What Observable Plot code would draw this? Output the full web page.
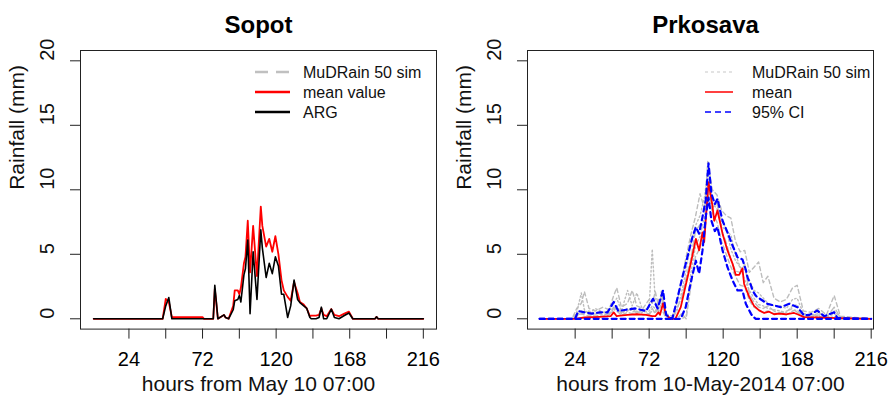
<!DOCTYPE html>
<html><head><meta charset="utf-8">
<script src="https://cdn.jsdelivr.net/npm/d3@7"></script>
<script src="https://cdn.jsdelivr.net/npm/@observablehq/plot@0.6"></script>
<style>
body{margin:0;background:#fff;}
#wrap{display:flex;width:890px;height:396px;overflow:hidden;}
svg{display:block;flex:none;}
</style></head><body><div id="wrap"></div>
<script>
// ---------- Data ----------
const panelTitles = ["Sopot", "Prkosava"];
const xLabels = ["hours from May 10 07:00", "hours from 10-May-2014 07:00"];
const yLabel = "Rainfall (mm)";
const yTicks = [0, 5, 10, 15, 20];
const xTicks = [24, 48, 72, 96, 120, 144, 168, 192, 216];
const xTickLabels = [24, 72, 120, 168, 216];

// Sopot
const sopotHours = [1, 46, 48, 50, 52, 53, 72, 73, 79, 80, 81, 82, 86, 87, 89, 92, 93, 95, 96, 97, 99, 100, 101.5, 103, 105, 107.5, 110, 111, 113.5, 115.5, 117.5, 119.5, 121.5, 123.5, 125, 127.5, 129.5, 131.7, 134, 135.5, 138, 140, 142, 143, 146, 148, 149.5, 151, 153, 156, 158, 161, 164.5, 167.5, 170, 184.5, 185.5, 186.5, 216];
const sopotMean = [0, 0, 1.55, 1.3, 0.12, 0.12, 0.12, 0, 0, 2.3, 1.2, 0, 0.3, 0.1, 0, 1.0, 2.2, 2.2, 1.9, 2.4, 4.3, 4.8, 7.6, 3.6, 7.2, 3.3, 8.7, 7.2, 5.6, 6.2, 5.2, 6.4, 5.0, 3.0, 2.2, 1.7, 1.4, 2.85, 2.0, 1.3, 1.1, 0.8, 0.2, 0.25, 0.25, 0.3, 0.8, 0.3, 0.2, 0.75, 0.3, 0.2, 0.4, 0.55, 0, 0, 0.15, 0, 0];
const sopotARG = [0, 0, 1.0, 1.65, 0, 0, 0, 0, 0, 2.6, 1.3, 0, 0.3, 0.1, 0, 0.7, 1.4, 1.5, 1.8, 1.3, 3.4, 3.9, 6.1, 0.4, 5.2, 1.5, 6.9, 5.5, 3.2, 4.3, 3.5, 4.8, 4.1, 1.9, 1.9, 0.1, 1.0, 3.0, 1.5, 1.26, 1.0, 0.8, 0.1, 0, 0, 0.1, 0.9, 0, 0, 0.75, 0.1, 0, 0.25, 0.45, 0, 0, 0.15, 0, 0];

// Prkosava - a few of the MuDRain simulations
const simHours = [1, 22, 25, 28, 30, 33, 37, 42, 46, 49, 51, 54, 58, 61, 64, 68, 72, 74, 76, 78, 80, 83, 87, 90, 93, 96, 99, 102, 105, 108, 110, 113, 116, 119, 122, 125, 128, 131, 134, 137, 140, 143, 146, 149, 153, 157, 161, 165, 168, 172, 177, 182, 187, 192, 196, 216];
const sim1 = [0, 0, 0.8, 1.2, 2.1, 0.8, 0.6, 0.9, 0.7, 1.8, 2.4, 0.9, 1.2, 2.2, 1.0, 0.8, 1.5, 1.2, 2.1, 1.0, 1.8, 0.4, 0.2, 1.2, 3.0, 4.8, 6.5, 7.9, 9.7, 8.5, 12.2, 10.0, 9.6, 8.4, 8.0, 7.8, 6.0, 5.2, 5.3, 3.6, 4.0, 4.4, 2.8, 3.3, 1.6, 1.3, 1.5, 2.4, 2.6, 0.6, 0.5, 0.8, 0.3, 1.8, 0.2, 0];
const sim2 = [0, 0, 0.5, 2.0, 0.7, 0.4, 0.8, 0.5, 0.6, 1.2, 1.6, 0.6, 2.2, 1.0, 2.0, 0.6, 0.9, 5.4, 1.3, 0.6, 2.2, 0.3, 0, 0.6, 2.0, 3.8, 5.8, 7.2, 8.0, 9.5, 11.5, 9.0, 8.5, 7.2, 6.8, 6.5, 5.0, 4.0, 3.8, 3.0, 2.2, 2.0, 1.6, 1.2, 1.0, 1.0, 0.8, 1.5, 1.6, 0.4, 0.3, 0.4, 0.2, 0.6, 0.1, 0];
const sim3 = [0, 0, 0.2, 0.4, 0.3, 0.2, 0.3, 0.2, 0.3, 0.8, 0.6, 0.3, 0.5, 0.4, 0.6, 0.3, 0.4, 0.6, 0.5, 1.5, 0.8, 0, 0, 0, 0.4, 0, 2.5, 4.8, 5.5, 7.0, 9.8, 8.2, 7.5, 6.0, 5.0, 4.0, 3.3, 2.6, 2.5, 1.4, 0.9, 0.7, 0.5, 0.6, 0.4, 0.5, 0.3, 0.6, 0.7, 0.1, 0.1, 0.3, 0, 0.2, 0, 0];
const sim4 = [0, 0, 0.3, 0.6, 0.5, 0.6, 0.4, 0.5, 0.4, 0.6, 1.0, 0.4, 0.8, 0.6, 0.5, 0.5, 0.6, 1.0, 0.8, 0.5, 1.2, 0.2, 0, 0, 0, 0.2, 3.5, 5.6, 6.4, 8.0, 10.5, 9.3, 8.9, 7.6, 7.0, 5.4, 4.5, 4.0, 3.0, 2.2, 1.6, 1.1, 1.0, 0.8, 0.7, 0.6, 0.5, 1.0, 1.1, 0.2, 0.2, 0.2, 0.1, 0.4, 0, 0];
const sim5 = [0, 0, 0.4, 0.3, 0.6, 0.3, 0.5, 0.3, 0.4, 0.9, 0.7, 0.5, 0.6, 0.9, 0.4, 0.7, 0.3, 0.8, 0.4, 0.9, 1.6, 0.1, 0, 0.8, 1.6, 3.2, 4.6, 6.8, 7.3, 7.0, 10.2, 8.6, 9.0, 6.9, 5.9, 4.6, 3.7, 3.6, 4.2, 1.9, 1.3, 0.9, 0.8, 1.0, 0.6, 0.4, 0.6, 0.8, 0.5, 0.2, 0.1, 0.5, 0.1, 0.9, 0.1, 0];

const prkHours = [1, 24, 30, 40, 47, 49, 51, 53, 58, 64, 70, 74, 76, 78, 79, 81, 83, 86, 89, 92.5, 95.7, 99, 102.3, 104.4, 106.6, 107.7, 110.5, 113, 114.2, 116.3, 119.6, 122.8, 126, 128.2, 130.4, 132.5, 133.6, 136.9, 140, 143.3, 146.6, 149.8, 153, 156.3, 160.6, 166, 168.2, 172.5, 181, 194, 216];
const prkMean = [0, 0, 0.1, 0.15, 0.2, 0.5, 0.2, 0.25, 0.3, 0.35, 0.3, 0.2, 0.2, 0.5, 0.3, 1.2, 0.3, 0, 0, 0.9, 2.6, 4.3, 6.2, 5.3, 6.7, 5.95, 10.6, 8.8, 7.6, 8.4, 6.6, 5.3, 4.3, 3.4, 3.4, 3.9, 2.7, 1.7, 1.0, 0.65, 0.45, 0.55, 0.35, 0.4, 0.35, 0.45, 0.35, 0.13, 0.1, 0.05, 0];

const ciHours = [1, 24, 26, 30, 35, 40, 45, 49, 52, 57, 63, 70, 74.5, 77.5, 81, 83, 87, 90, 92.5, 95.7, 97.9, 100, 102.3, 104.4, 106.6, 108.7, 110.5, 112.4, 114.6, 116.3, 119.6, 122.8, 126, 129.3, 132.5, 134.7, 135.8, 138, 139, 141.1, 142.2, 145.5, 148.7, 153.1, 157.4, 162.8, 168.2, 172.5, 176, 181.1, 185.5, 192, 194.1, 216];
const ciUpper = [0, 0, 0.6, 0.5, 0.4, 0.5, 0.5, 1.3, 0.6, 0.7, 0.8, 0.6, 1.55, 0.8, 2.2, 0.3, 0, 1.42, 2.7, 4.26, 5.3, 6.3, 7.1, 6.6, 7.9, 9.2, 12.06, 9.7, 8.9, 9.3, 7.6, 6.7, 5.7, 4.77, 4.6, 3.8, 3.2, 2.6, 2.2, 1.8, 1.67, 1.42, 1.16, 1.03, 0.9, 1.16, 0.9, 0.26, 0.3, 0.64, 0.2, 0.5, 0.05, 0];
const ciLower = [0, 0, 0, 0, 0, 0, 0, 0, 0, 0, 0, 0, 0, 0, 0, 0, 0, 0, 0, 0.9, 2.2, 3.36, 4.5, 3.5, 5.3, 7.9, 9.4, 7.6, 6.8, 7.1, 5.3, 4.0, 3.0, 2.2, 2.2, 1.16, 0.9, 0.4, 0.2, 0, 0, 0, 0, 0, 0, 0, 0, 0, 0, 0, 0, 0, 0, 0];

const legendSopot = ["MuDRain 50 sim", "mean value", "ARG"];
const legendPrk = ["MuDRain 50 sim", "mean", "95% CI"];

// ---------- Drawing ----------
const FONT = "'Liberation Sans', Arial, Helvetica, sans-serif";

function panel({title, xlabel, xDomain, mL, mR, marks, titleDx}) {
  return Plot.plot({
    width: 445, height: 396,
    marginLeft: mL, marginRight: mR, marginTop: 50, marginBottom: 67.4,
    x: {domain: xDomain},
    y: {domain: [-0.8, 20.8]},
    style: {fontFamily: FONT, background: "#fff", color: "#000", overflow: "visible"},
    marks: [
      ...marks,
      Plot.frame({stroke: "#222", strokeWidth: 1}),
      Plot.axisX({ticks: xTicks, tickSize: 10, tickPadding: 13, fontSize: 20,
        tickFormat: d => xTickLabels.includes(d) ? String(d) : "", label: null, stroke: "#222"}),
      Plot.axisY({ticks: yTicks, tickSize: 10, tickFormat: () => "", label: null, stroke: "#222"}),
      Plot.text(yTicks, {y: d => d, text: d => String(d), frameAnchor: "left", rotate: -90,
        dx: -27, lineAnchor: "bottom", fontSize: 20, fill: "#111"}),
      Plot.text([xlabel], {text: d => d, frameAnchor: "bottom", dy: 61.4, lineAnchor: "bottom", fontSize: 21, fill: "#111"}),
      Plot.text([yLabel], {text: d => d, frameAnchor: "left", rotate: -90, dx: -56.5, lineAnchor: "bottom", fontSize: 21, fill: "#111"}),
      Plot.text([title], {text: d => d, frameAnchor: "top", dx: titleDx, dy: -18, lineAnchor: "bottom", fontSize: 24, fontWeight: "bold", fill: "#000"})
    ]
  });
}

function addLegend(svg, labels, styles, x1, x2, tx, ys) {
  const g = d3.select(svg).append("g").attr("font-family", FONT).attr("font-size", 16).attr("text-anchor", "start");
  labels.forEach((lab, i) => {
    const s = styles[i];
    g.append("line").attr("x1", x1).attr("x2", x2).attr("y1", ys[i]).attr("y2", ys[i])
      .attr("stroke", s.stroke).attr("stroke-width", s.width)
      .attr("stroke-dasharray", s.dash || null);
    g.append("text").attr("x", tx).attr("y", ys[i]).attr("dy", "0.35em").attr("fill", "#111")
      .attr("text-anchor", "start").text(lab);
  });
}

const left = panel({
  title: panelTitles[0], xlabel: xLabels[0], xDomain: [-7.6, 224.6], mL: 80, mR: 9, titleDx: 0,
  marks: [
    Plot.line(sopotMean, {x: sopotHours, y: sopotMean, stroke: "#ff0000", strokeWidth: 1.8}),
    Plot.line(sopotARG, {x: sopotHours, y: sopotARG, stroke: "#000", strokeWidth: 1.6})
  ]
});
addLegend(left, legendSopot, [
  {stroke: "#c0c0c0", width: 2.5, dash: "13 8"},
  {stroke: "#ff0000", width: 2.5},
  {stroke: "#000", width: 2.5}
], 255, 290, 303, [72, 92, 112]);

const sims = [sim1, sim2, sim3, sim4, sim5];
const simDash = ["4 3", "1.5 2.5", "4 3", "1.5 2.5", "6 3"];
const right = panel({
  title: panelTitles[1], xlabel: xLabels[1], xDomain: [-6.9, 217.5], mL: 82, mR: 17, titleDx: 5,
  marks: [
    ...sims.map((s, i) => Plot.line(s, {x: simHours, y: s, stroke: "#bdbdbd", strokeWidth: 1.4, strokeDasharray: simDash[i]})),
    Plot.line(prkMean, {x: prkHours, y: prkMean, stroke: "#ff0000", strokeWidth: 1.8}),
    Plot.line(ciUpper, {x: ciHours, y: ciUpper, stroke: "#0000ff", strokeWidth: 2.2, strokeDasharray: "5 4"}),
    Plot.line(ciLower, {x: ciHours, y: ciLower, stroke: "#0000ff", strokeWidth: 2.2, strokeDasharray: "5 4"})
  ]
});
addLegend(right, legendPrk, [
  {stroke: "#c8c8c8", width: 1.2, dash: "3 3"},
  {stroke: "#ff0000", width: 1.5},
  {stroke: "#0000ff", width: 1.5, dash: "6 4"}
], 260, 288, 307, [72, 92, 112]);

document.getElementById("wrap").append(left, right);
</script>
</body></html>
